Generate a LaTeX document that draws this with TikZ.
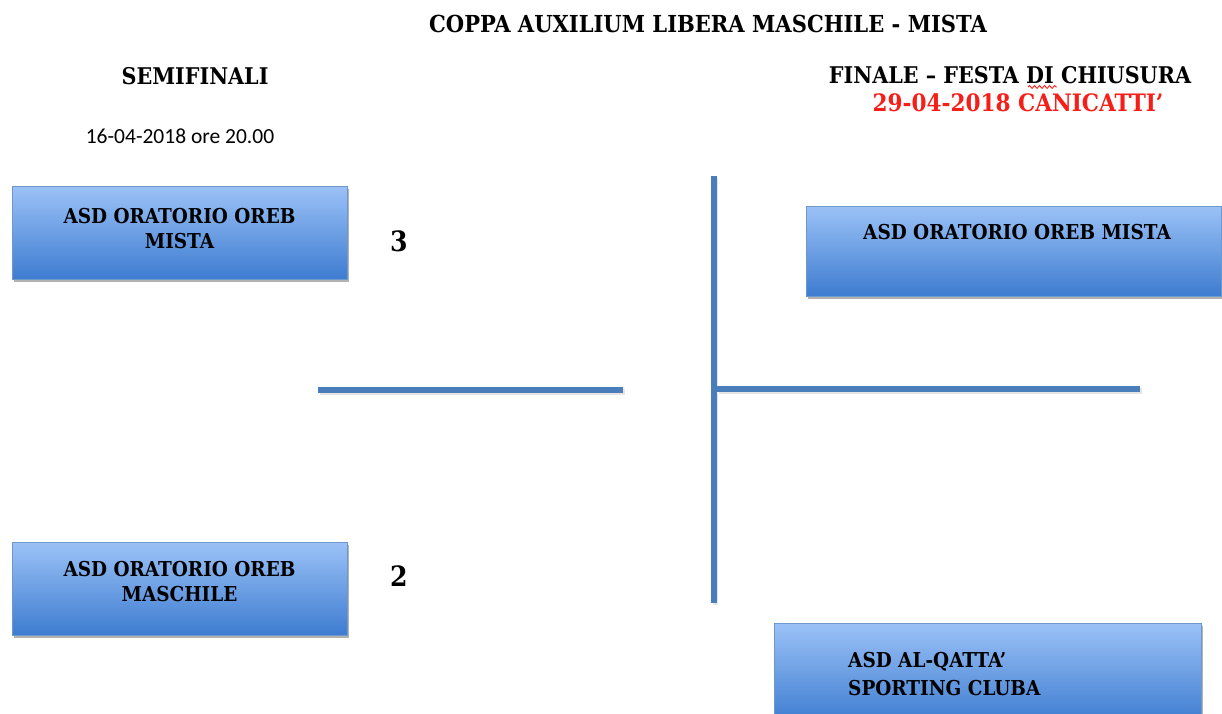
\documentclass[tikz,border=0pt]{standalone}
\usepackage{fontspec}
\setmainfont{DejaVu Serif Condensed}
\newfontfamily\datefont{Carlito}
\usetikzlibrary{shadows,decorations.pathmorphing}
\definecolor{lineblue}{RGB}{74,126,187}
\definecolor{boxtop}{RGB}{155,194,247}
\definecolor{boxbot}{RGB}{62,124,208}
\definecolor{redtxt}{RGB}{245,30,25}
\tikzset{
  teambox/.style={rectangle, draw=lineblue!80, line width=0.8pt, top color=boxtop, bottom color=boxbot,
    drop shadow={shadow xshift=2pt, shadow yshift=-3pt, fill=black, opacity=0.3}, inner sep=0pt},
  teamtext/.style={font=\bfseries\fontsize{20.5}{25}\selectfont, align=center, inner sep=0pt},
  conn/.style={lineblue, line width=5.5pt,
    preaction={draw=black!40, opacity=0.25, line width=5.5pt, transform canvas={shift={(1.5pt,-2pt)}}}},
  heading/.style={font=\bfseries\fontsize{23}{26}\selectfont, inner sep=0pt},
  score/.style={font=\bfseries\fontsize{28}{30}\selectfont, inner sep=0pt}
}
\begin{document}
\begin{tikzpicture}[x=1pt,y=-1pt]
\useasboundingbox (0,0) rectangle (1222,713);
\clip (0,0) rectangle (1222,713);
% headings
\node[heading, font=\bfseries\fontsize{23.4}{26}\selectfont] (title) at (708,24) {COPPA AUXILIUM LIBERA MASCHILE - MISTA};
\node[heading] (semi) at (195,76) {SEMIFINALI};
\node[font=\datefont\fontsize{21.5}{24}\selectfont, inner sep=0pt] (date) at (180,136) {16-04-2018 ore 20.00};
\node[heading] (finale) at (1010,75) {FINALE – FESTA DI CHIUSURA};
\node[heading, text=redtxt, font=\bfseries\fontsize{24}{26}\selectfont] (place) at (1018,103) {29-04-2018 CANICATTI’};
\coordinate (w1) at (1028,87);
\coordinate (w2) at (1057,87);
\draw[redtxt, line width=0.9pt, decorate, decoration={snake, amplitude=1.4pt, segment length=5pt}] (w1) -- (w2);
% boxes
\node[teambox, minimum width=335pt, minimum height=93pt] (b1) at (179.5,232.5) {};
\node[teamtext] (t1) at (179.5,228.5) {ASD ORATORIO OREB\\MISTA};
\node[teambox, minimum width=335pt, minimum height=93pt] (b2) at (179.5,588.5) {};
\node[teamtext] (t2) at (179.5,581.5) {ASD ORATORIO OREB\\MASCHILE};
\node[teambox, minimum width=415pt, minimum height=90pt] (b3) at (1013.5,251) {};
\node[teamtext] (t3) at (1017,232) {ASD ORATORIO OREB MISTA};
\node[teambox, minimum width=427pt, minimum height=100pt] (b4) at (987.5,673) {};
\node[teamtext, align=left, anchor=west, font=\bfseries\fontsize{20.5}{28}\selectfont] (t4) at (848,674) {ASD AL-QATTA’\\SPORTING CLUBA};
% scores
\node[score] (s1) at (399,241) {3};
\node[score] (s2) at (399,576) {2};
% connectors
\coordinate (h1a) at (318,390);
\coordinate (h1b) at (623,390);
\coordinate (va) at (714,176);
\coordinate (vb) at (714,603);
\coordinate (h2a) at (717,389);
\coordinate (h2b) at (1140,389);
\draw[conn] (h1a) -- (h1b);
\draw[conn] (va) -- (vb);
\draw[conn] (h2a) -- (h2b);
\end{tikzpicture}
\end{document}
